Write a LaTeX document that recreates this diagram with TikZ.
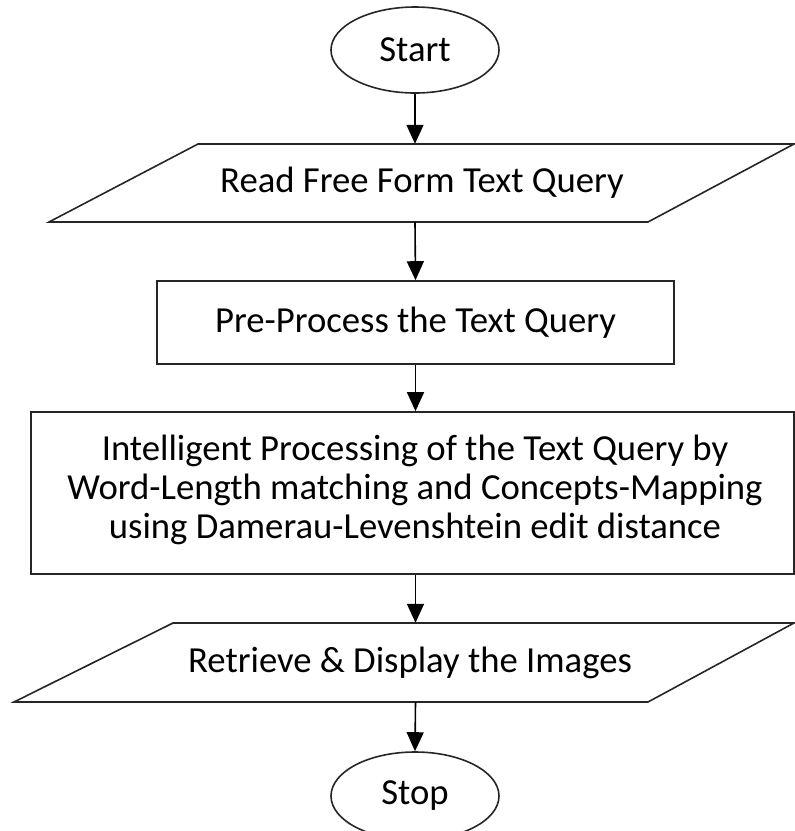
\documentclass[tikz,border=0pt]{standalone}
\usepackage{fontspec}
\setmainfont{Carlito}
\usetikzlibrary{arrows.meta,shapes.geometric}
\begin{document}
\begin{tikzpicture}[x=1pt,y=-1pt,
  every node/.style={font=\fontsize{36.7}{38.7}\selectfont, text=black},
  shapeline/.style={draw=black!85, line width=1.6pt},
  term/.style={shapeline, ellipse, inner sep=0pt, minimum width=168pt, minimum height=86pt},
  procbox/.style={shapeline, rectangle, inner sep=0pt},
  iotext/.style={rectangle, inner sep=0pt, minimum width=300pt, minimum height=78pt},
  flow/.style={draw=black, line width=1.6pt, -{Triangle[length=19pt,width=17pt]}}
]
\useasboundingbox (0,0) rectangle (795,831);
\clip (0,0) rectangle (795,831);

% Start
\node[term] (start) at (415,50) {Start};

% Read (parallelogram)
\draw[shapeline] (198,144) -- (794,144) -- (648,222) -- (49,222) -- cycle;
\node[iotext] (read) at (422,183) {Read Free Form Text Query};

% Pre-process
\node[procbox, minimum width=517pt, minimum height=83pt] (pre) at (415.5,322.5) {Pre-Process the Text Query};

% Intelligent processing
\node[procbox, minimum width=763pt, minimum height=162pt] (intel) at (412.5,493) {};
\node[align=center, inner sep=0pt] (inteltext) at (415,490) {Intelligent Processing of the Text Query by\\Word-Length matching and Concepts-Mapping\\using Damerau-Levenshtein edit distance};

% Retrieve (parallelogram)
\draw[shapeline] (173,623) -- (794,623) -- (648,702) -- (14,702) -- cycle;
\node[iotext, minimum height=79pt] (ret) at (410,662.5) {Retrieve \& Display the Images};

% Stop
\node[term, minimum height=88pt] (stop) at (415,796) {Stop};

% Connectors
\draw[flow] (start.south) -- (start.south |- read.north);
\draw[flow] (start.south |- read.south) -- (pre.north);
\draw[flow] (pre.south) -- (pre.south |- intel.north);
\draw[flow] (pre.south |- intel.south) -- (pre.south |- ret.north);
\draw[flow] (pre.south |- ret.south) -- (stop.north);
\end{tikzpicture}
\end{document}
